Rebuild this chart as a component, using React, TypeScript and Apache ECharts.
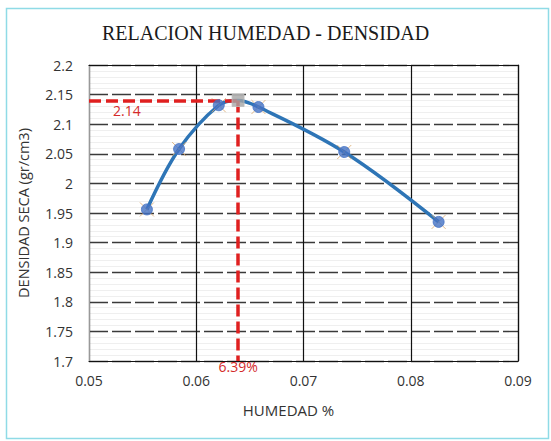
import React, { useEffect, useRef } from "react";
import * as echarts from "echarts";

// Proctor test: moisture content vs dry density
const humedad = [0.0554, 0.0584, 0.0621, 0.0658, 0.0738, 0.0826];
const densidad = [1.956, 2.058, 2.132, 2.129, 2.053, 1.935];

// Optimum moisture / maximum dry density
const humedadOptima = 0.0639;
const densidadMaxima = 2.14;

const xMin = 0.05;
const xMax = 0.09;
const yMin = 1.7;
const yMax = 2.2;

export default function App() {
  const ref = useRef<HTMLDivElement>(null);

  useEffect(() => {
    if (!ref.current) return;
    const chart = echarts.init(ref.current, null, { renderer: "svg" });

    const puntos = humedad.map((h, i) => [h, densidad[i]]);
    // compaction curve passes through the optimum point
    const curva = [...puntos, [humedadOptima, densidadMaxima]].sort(
      (a, b) => a[0] - b[0]
    );

    const sans = "Open Sans, Lato, sans-serif";

    chart.setOption({
      animation: false,
      backgroundColor: "#ffffff",
      title: {
        text: "RELACION HUMEDAD - DENSIDAD",
        left: 97,
        top: 18,
        textStyle: {
          fontFamily: "Liberation Serif, serif",
          fontWeight: "normal",
          fontSize: 20,
          color: "#1a1a1a",
        },
      },
      graphic: [
        {
          type: "rect",
          shape: { x: 6.5, y: 8.5, width: 542, height: 430 },
          style: { fill: "none", stroke: "#8fdbe6", lineWidth: 1.5 },
          silent: true,
        },
      ],
      grid: { left: 89, right: 33, top: 65, bottom: 80 },
      xAxis: [
        {
          type: "value",
          min: xMin,
          max: xMax,
          interval: 0.01,
          name: "HUMEDAD %",
          nameLocation: "middle",
          nameGap: 41,
          nameTextStyle: {
            fontFamily: sans,
            fontSize: 15,
            color: "#333",
            padding: [0, 30, 0, 0],
          },
          axisLine: { show: true, lineStyle: { color: "#111", width: 1.2 } },
          axisTick: { show: false },
          axisLabel: {
            fontFamily: sans,
            fontSize: 14,
            color: "#333",
            margin: 12,
            formatter: (v: number) => String(+v.toFixed(2)),
          },
          splitLine: { show: true, lineStyle: { color: "#111", width: 1.2 } },
        },
        {
          type: "value",
          position: "top",
          min: xMin,
          max: xMax,
          interval: 0.01,
          axisLine: { show: true, lineStyle: { color: "#111", width: 1.2 } },
          axisTick: { show: false },
          axisLabel: { show: false },
          splitLine: { show: false },
        },
      ],
      yAxis: [
        {
          type: "value",
          min: yMin,
          max: yMax,
          interval: 0.05,
          name: "DENSIDAD SECA (gr/cm3)",
          nameLocation: "middle",
          nameGap: 58,
          nameTextStyle: { fontFamily: sans, fontSize: 14.5, color: "#333" },
          axisLine: { show: true, lineStyle: { color: "#999", width: 1.2 } },
          axisTick: { show: false },
          axisLabel: {
            fontFamily: sans,
            fontSize: 14,
            color: "#333",
            margin: 16,
            formatter: (v: number) => String(+v.toFixed(2)),
          },
          splitLine: {
            show: true,
            lineStyle: { color: "#3a3a3a", width: 1.4, type: [19, 4] },
          },
          minorTick: { show: false, splitNumber: 5 },
          minorSplitLine: {
            show: true,
            lineStyle: { color: "#efefef", width: 1 },
          },
        },
        {
          type: "value",
          position: "right",
          min: yMin,
          max: yMax,
          interval: 0.05,
          axisLine: { show: true, lineStyle: { color: "#111", width: 1.2 } },
          axisTick: { show: false },
          axisLabel: { show: false },
          splitLine: { show: false },
        },
      ],
      series: [
        {
          type: "line",
          data: curva,
          smooth: 0.35,
          showSymbol: false,
          symbol: "none",
          lineStyle: { color: "#2e75b6", width: 3.5 },
          z: 3,
        },
        {
          type: "scatter",
          data: puntos,
          symbol: "path://M-1,-1L1,1M-1,1L1,-1",
          symbolSize: 14,
          itemStyle: { color: "none", borderColor: "#d9a86c", borderWidth: 1 },
          z: 4,
        },
        {
          type: "scatter",
          data: puntos,
          symbol: "circle",
          symbolSize: 11,
          itemStyle: { color: "#4472c4", borderColor: "#4472c4" },
          z: 5,
        },
        {
          type: "scatter",
          data: [[humedadOptima, densidadMaxima]],
          symbol: "rect",
          symbolSize: 12,
          itemStyle: { color: "#a5a5a5", borderColor: "#bdbdbd", borderWidth: 1 },
          z: 6,
          markLine: {
            silent: true,
            symbol: "none",
            lineStyle: { color: "#e02020", width: 3.5, type: [12, 5] },
            data: [
              [
                {
                  coord: [xMin, densidadMaxima],
                  label: {
                    show: true,
                    position: "insideStartBottom",
                    formatter: String(densidadMaxima),
                    color: "#d42a2a",
                    fontFamily: sans,
                    fontSize: 14,
                    distance: [24, 3],
                  },
                },
                { coord: [humedadOptima, densidadMaxima] },
              ],
              [
                {
                  coord: [humedadOptima, densidadMaxima],
                  label: {
                    show: true,
                    position: "end",
                    formatter: (humedadOptima * 100).toFixed(2) + "%",
                    color: "#d42a2a",
                    fontFamily: sans,
                    fontSize: 14,
                    distance: -2,
                  },
                },
                { coord: [humedadOptima, yMin] },
              ],
            ],
          },
        },
      ],
    });

    return () => chart.dispose();
  }, []);

  return (
    <div
      ref={ref}
      style={{ position: "fixed", left: 0, top: 0, width: 551, height: 441 }}
    />
  );
}
